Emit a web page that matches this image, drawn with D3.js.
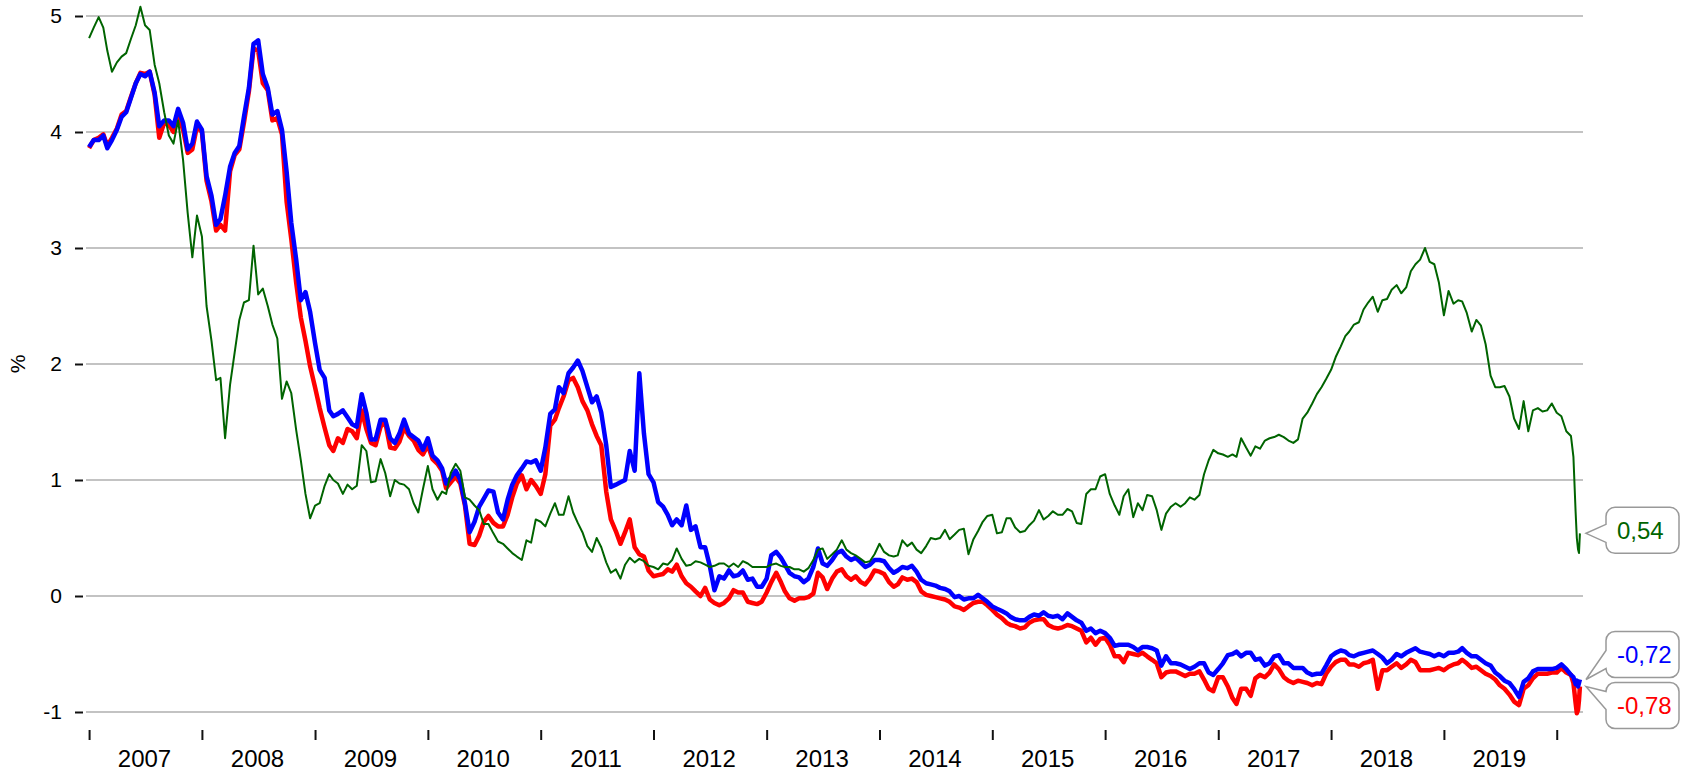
<!DOCTYPE html>
<html>
<head>
<meta charset="utf-8">
<script src="https://cdn.jsdelivr.net/npm/d3@7"></script>
<style>
  html, body { margin: 0; padding: 0; background: #fff; }
  svg { display: block; font-family: "Liberation Sans", Arial, Helvetica, sans-serif; }
</style>
</head>
<body>
<div id="chart"></div>
<script>
// Samples are read off on the 1st and 16th of every month (Jan 2007 - Feb 2020),
// the last weeks (the March 2020 drop) at a finer step.
const gridStart = new Date(2007, 0, 1);
const gridEnd = new Date(2020, 2, 1);
const tailDates = ["2020-02-24", "2020-03-02", "2020-03-06", "2020-03-10", "2020-03-13", "2020-03-16"];

const yTicks = [-1, 0, 1, 2, 3, 4, 5];
const yearTicks = [2007, 2008, 2009, 2010, 2011, 2012, 2013, 2014, 2015, 2016, 2017, 2018, 2019, 2020];
const yearLabels = ["2007", "2008", "2009", "2010", "2011", "2012", "2013", "2014", "2015", "2016", "2017", "2018", "2019"];
const yTitle = "%";

const greenValues = [
  // 2007
  4.81, 4.90, 4.99, 4.90, 4.70, 4.52, 4.60, 4.65, 4.68, 4.80, 4.92, 5.08, 4.92, 4.88, 4.58, 4.42, 4.17, 3.97, 3.90, 4.10, 3.76, 3.30, 2.92, 3.28,
  // 2008
  3.10, 2.50, 2.20, 1.86, 1.88, 1.36, 1.82, 2.10, 2.38, 2.53, 2.55, 3.02, 2.60, 2.65, 2.50, 2.34, 2.22, 1.70, 1.85, 1.75, 1.43, 1.17, 0.88, 0.67,
  // 2009
  0.78, 0.80, 0.95, 1.05, 1.00, 0.97, 0.88, 0.96, 0.92, 0.95, 1.30, 1.25, 0.98, 0.99, 1.18, 1.06, 0.86, 1.00, 0.97, 0.96, 0.92, 0.80, 0.72, 0.92,
  // 2010
  1.12, 0.92, 0.83, 0.90, 0.88, 1.06, 1.14, 1.08, 0.85, 0.83, 0.78, 0.74, 0.62, 0.62, 0.54, 0.47, 0.45, 0.41, 0.37, 0.34, 0.31, 0.48, 0.46, 0.66,
  // 2011
  0.64, 0.60, 0.71, 0.80, 0.70, 0.70, 0.86, 0.72, 0.63, 0.55, 0.43, 0.38, 0.50, 0.42, 0.29, 0.20, 0.23, 0.15, 0.27, 0.33, 0.29, 0.32, 0.30, 0.26,
  // 2012
  0.25, 0.23, 0.28, 0.27, 0.31, 0.41, 0.32, 0.26, 0.27, 0.30, 0.29, 0.27, 0.25, 0.26, 0.28, 0.28, 0.25, 0.28, 0.25, 0.30, 0.28, 0.25, 0.25, 0.25,
  // 2013
  0.25, 0.27, 0.28, 0.26, 0.25, 0.25, 0.23, 0.23, 0.21, 0.24, 0.31, 0.40, 0.41, 0.32, 0.36, 0.40, 0.48, 0.40, 0.37, 0.35, 0.32, 0.29, 0.30, 0.36,
  // 2014
  0.45, 0.38, 0.35, 0.34, 0.35, 0.48, 0.43, 0.46, 0.40, 0.37, 0.43, 0.50, 0.49, 0.50, 0.57, 0.49, 0.53, 0.57, 0.58, 0.36, 0.49, 0.56, 0.64, 0.69,
  // 2015
  0.70, 0.54, 0.55, 0.67, 0.67, 0.59, 0.55, 0.56, 0.61, 0.65, 0.74, 0.66, 0.69, 0.73, 0.70, 0.70, 0.75, 0.73, 0.63, 0.62, 0.88, 0.92, 0.92, 1.03,
  // 2016
  1.05, 0.88, 0.78, 0.70, 0.86, 0.92, 0.68, 0.80, 0.74, 0.87, 0.86, 0.74, 0.57, 0.71, 0.77, 0.80, 0.77, 0.80, 0.85, 0.83, 0.87, 1.05, 1.17, 1.26,
  // 2017
  1.23, 1.22, 1.20, 1.22, 1.20, 1.36, 1.28, 1.21, 1.29, 1.27, 1.34, 1.36, 1.37, 1.39, 1.37, 1.34, 1.32, 1.35, 1.53, 1.58, 1.66, 1.74, 1.80, 1.87,
  // 2018
  1.95, 2.06, 2.15, 2.24, 2.28, 2.34, 2.36, 2.47, 2.53, 2.58, 2.45, 2.55, 2.56, 2.64, 2.68, 2.61, 2.66, 2.80, 2.86, 2.90, 3.00, 2.88, 2.86, 2.70,
  // 2019
  2.42, 2.63, 2.52, 2.55, 2.54, 2.44, 2.28, 2.38, 2.33, 2.17, 1.90, 1.80, 1.80, 1.81, 1.72, 1.53, 1.44, 1.68, 1.42, 1.60, 1.62, 1.59, 1.60, 1.66,
  // 2020
  1.58, 1.55, 1.42, 1.38,
  1.20, 0.73, 0.50, 0.40, 0.37, 0.54
];

const blueValues = [
  // 2007
  3.87, 3.93, 3.93, 3.97, 3.86, 3.93, 4.02, 4.13, 4.17, 4.29, 4.42, 4.50, 4.48, 4.52, 4.34, 4.05, 4.10, 4.10, 4.05, 4.20, 4.08, 3.85, 3.90, 4.09,
  // 2008
  4.02, 3.62, 3.45, 3.20, 3.25, 3.45, 3.70, 3.82, 3.88, 4.13, 4.38, 4.76, 4.79, 4.50, 4.38, 4.15, 4.18, 4.02, 3.66, 3.22, 2.90, 2.55, 2.62, 2.45,
  // 2009
  2.18, 1.95, 1.88, 1.60, 1.55, 1.57, 1.60, 1.54, 1.48, 1.46, 1.74, 1.58, 1.35, 1.35, 1.52, 1.52, 1.36, 1.32, 1.40, 1.52, 1.40, 1.37, 1.34, 1.26,
  // 2010
  1.36, 1.21, 1.17, 1.10, 0.97, 1.02, 1.08, 1.00, 0.80, 0.55, 0.64, 0.77, 0.84, 0.91, 0.90, 0.72, 0.66, 0.83, 0.96, 1.04, 1.10, 1.16, 1.15, 1.17,
  // 2011
  1.08, 1.28, 1.57, 1.61, 1.80, 1.75, 1.92, 1.97, 2.03, 1.94, 1.80, 1.67, 1.72, 1.58, 1.30, 0.94, 0.96, 0.98, 1.00, 1.25, 1.08, 1.92, 1.40, 1.05,
  // 2012
  0.98, 0.81, 0.77, 0.70, 0.61, 0.66, 0.61, 0.78, 0.57, 0.60, 0.42, 0.42, 0.26, 0.05, 0.17, 0.15, 0.22, 0.17, 0.18, 0.22, 0.14, 0.15, 0.08, 0.08,
  // 2013
  0.15, 0.35, 0.38, 0.33, 0.27, 0.20, 0.17, 0.16, 0.12, 0.15, 0.25, 0.41, 0.28, 0.26, 0.31, 0.37, 0.39, 0.34, 0.31, 0.33, 0.29, 0.25, 0.27, 0.31,
  // 2014
  0.31, 0.30, 0.24, 0.20, 0.22, 0.25, 0.24, 0.26, 0.21, 0.14, 0.11, 0.10, 0.09, 0.07, 0.06, 0.04, -0.01, 0.00, -0.03, -0.02, -0.02, 0.01, -0.02, -0.05,
  // 2015
  -0.09, -0.11, -0.13, -0.15, -0.18, -0.20, -0.21, -0.21, -0.18, -0.16, -0.17, -0.14, -0.17, -0.18, -0.17, -0.20, -0.15, -0.18, -0.21, -0.23, -0.30, -0.28, -0.32, -0.30,
  // 2016
  -0.32, -0.36, -0.43, -0.42, -0.42, -0.42, -0.44, -0.47, -0.44, -0.44, -0.45, -0.47, -0.60, -0.52, -0.58, -0.58, -0.59, -0.61, -0.63, -0.61, -0.58, -0.58, -0.66, -0.68,
  // 2017
  -0.63, -0.58, -0.51, -0.50, -0.48, -0.52, -0.49, -0.49, -0.55, -0.54, -0.60, -0.58, -0.52, -0.51, -0.58, -0.58, -0.62, -0.62, -0.62, -0.66, -0.68, -0.67, -0.67, -0.60,
  // 2018
  -0.52, -0.49, -0.47, -0.48, -0.51, -0.52, -0.50, -0.49, -0.48, -0.47, -0.50, -0.53, -0.58, -0.55, -0.50, -0.52, -0.49, -0.47, -0.45, -0.48, -0.49, -0.50, -0.52, -0.50,
  // 2019
  -0.52, -0.49, -0.49, -0.48, -0.45, -0.49, -0.52, -0.52, -0.55, -0.58, -0.60, -0.66, -0.69, -0.73, -0.75, -0.80, -0.87, -0.74, -0.71, -0.65, -0.63, -0.63, -0.63, -0.63,
  // 2020
  -0.62, -0.59, -0.63, -0.68,
  -0.70, -0.76, -0.73, -0.78, -0.75, -0.72
];

const redValues = [
  // 2007
  3.86, 3.93, 3.95, 3.98, 3.88, 3.95, 4.03, 4.15, 4.18, 4.30, 4.42, 4.51, 4.50, 4.52, 4.32, 3.95, 4.08, 4.06, 4.00, 4.15, 4.02, 3.82, 3.85, 4.05,
  // 2008
  4.00, 3.58, 3.40, 3.15, 3.20, 3.15, 3.66, 3.80, 3.85, 4.08, 4.35, 4.72, 4.70, 4.42, 4.36, 4.10, 4.12, 3.98, 3.40, 3.08, 2.70, 2.40, 2.20, 1.98,
  // 2009
  1.80, 1.62, 1.45, 1.30, 1.25, 1.36, 1.32, 1.44, 1.42, 1.36, 1.60, 1.44, 1.32, 1.30, 1.46, 1.50, 1.28, 1.27, 1.33, 1.45, 1.38, 1.34, 1.26, 1.22,
  // 2010
  1.30, 1.18, 1.14, 1.08, 0.93, 0.98, 1.03, 0.97, 0.78, 0.45, 0.44, 0.52, 0.64, 0.69, 0.63, 0.60, 0.60, 0.70, 0.85, 0.97, 1.04, 0.92, 1.00, 0.95,
  // 2011
  0.88, 1.05, 1.47, 1.52, 1.62, 1.72, 1.86, 1.88, 1.80, 1.68, 1.60, 1.48, 1.38, 1.30, 0.90, 0.66, 0.56, 0.45, 0.55, 0.66, 0.42, 0.36, 0.34, 0.22,
  // 2012
  0.17, 0.18, 0.19, 0.23, 0.21, 0.27, 0.17, 0.11, 0.08, 0.04, 0.00, 0.07, -0.03, -0.06, -0.08, -0.06, -0.02, 0.05, 0.03, 0.03, -0.05, -0.06, -0.07, -0.05,
  // 2013
  0.03, 0.12, 0.20, 0.12, 0.04, -0.02, -0.04, -0.02, -0.02, -0.01, 0.02, 0.20, 0.16, 0.06, 0.15, 0.21, 0.23, 0.17, 0.14, 0.17, 0.12, 0.10, 0.15, 0.22,
  // 2014
  0.21, 0.19, 0.12, 0.08, 0.10, 0.16, 0.14, 0.15, 0.12, 0.04, 0.01, 0.00, -0.01, -0.02, -0.03, -0.05, -0.09, -0.10, -0.12, -0.09, -0.06, -0.05, -0.05, -0.08,
  // 2015
  -0.12, -0.16, -0.19, -0.23, -0.25, -0.26, -0.28, -0.27, -0.23, -0.21, -0.20, -0.20, -0.25, -0.27, -0.28, -0.27, -0.25, -0.26, -0.28, -0.30, -0.40, -0.36, -0.42, -0.37,
  // 2016
  -0.36, -0.42, -0.52, -0.52, -0.57, -0.49, -0.50, -0.51, -0.49, -0.52, -0.55, -0.58, -0.70, -0.66, -0.65, -0.65, -0.67, -0.69, -0.67, -0.67, -0.65, -0.72, -0.80, -0.82,
  // 2017
  -0.70, -0.70, -0.78, -0.88, -0.93, -0.80, -0.80, -0.86, -0.71, -0.68, -0.70, -0.66, -0.59, -0.63, -0.70, -0.73, -0.75, -0.73, -0.74, -0.75, -0.77, -0.75, -0.76, -0.67,
  // 2018
  -0.61, -0.57, -0.55, -0.55, -0.59, -0.59, -0.61, -0.58, -0.57, -0.55, -0.80, -0.64, -0.64, -0.61, -0.58, -0.62, -0.59, -0.55, -0.57, -0.64, -0.64, -0.64, -0.63, -0.62,
  // 2019
  -0.64, -0.61, -0.59, -0.58, -0.55, -0.58, -0.62, -0.61, -0.64, -0.67, -0.69, -0.72, -0.77, -0.80, -0.85, -0.91, -0.94, -0.80, -0.77, -0.71, -0.67, -0.67, -0.67, -0.66,
  // 2020
  -0.66, -0.62, -0.66, -0.68,
  -0.75, -0.92, -1.01, -0.98, -0.90, -0.78
];

const width = 1681;
const height = 773;

const parseDay = d3.timeParse("%Y-%m-%d");
let dates = [];
d3.timeMonth.range(gridStart, gridEnd).forEach((m) => {
  dates.push(m, d3.timeDay.offset(m, 15));
});
dates = dates.concat(tailDates.map(parseDay));

// german number style: comma decimals, plain hyphen for the minus
const de = d3.formatLocale({decimal: ",", thousands: ".", grouping: [3], currency: ["", " €"], minus: "-"});
const fmtValue = de.format(".2f");
const fmtTick = de.format("d");

const x = d3.scaleTime()
  .domain([new Date(2006, 11, 22), new Date(2020, 2, 26)])
  .range([86, 1583]);

const y = d3.scaleLinear()
  .domain([-1, 5])
  .range([712, 16]);

const svg = d3.select("#chart").append("svg")
  .attr("width", width)
  .attr("height", height);

svg.append("rect")
  .attr("width", width)
  .attr("height", height)
  .attr("fill", "#fff");

// grid
svg.append("g")
  .selectAll("line")
  .data(yTicks)
  .enter().append("line")
    .attr("x1", x.range()[0])
    .attr("x2", x.range()[1])
    .attr("y1", d => y(d))
    .attr("y2", d => y(d))
    .attr("stroke", "#c3c3c3")
    .attr("stroke-width", 2);

// y axis: short ticks, no domain line
let yAxis = svg.append("g")
  .attr("transform", "translate(83,0)")
  .call(d3.axisLeft(y).tickValues(yTicks).tickFormat(fmtTick).tickSize(8).tickPadding(13));
yAxis.select(".domain").remove();
yAxis.selectAll(".tick line").attr("stroke", "#111").attr("stroke-width", 2);
yAxis.selectAll(".tick text")
  .attr("fill", "#000")
  .style("font-size", "21px")
  .style("font-family", "\"Liberation Sans\", Arial, sans-serif");

svg.append("text")
  .attr("transform", "translate(19," + y(2) + ") rotate(-90)")
  .attr("text-anchor", "middle")
  .attr("dominant-baseline", "middle")
  .attr("fill", "#000")
  .style("font-size", "21px")
  .text(yTitle);

// x axis: year boundaries as ticks, labels in the middle of each year
let xAxis = svg.append("g")
  .attr("transform", "translate(0,730)")
  .call(d3.axisBottom(x)
    .tickValues(yearTicks.map(yr => new Date(yr, 0, 1)))
    .tickFormat("")
    .tickSize(10));
xAxis.select(".domain").remove();
xAxis.selectAll(".tick line").attr("stroke", "#111").attr("stroke-width", 2);

svg.append("g")
  .selectAll("text")
  .data(yearLabels)
  .enter().append("text")
    .attr("x", d => (x(new Date(+d, 0, 1)) + x(new Date(+d + 1, 0, 1))) / 2 - 1)
    .attr("y", 767)
    .attr("text-anchor", "middle")
    .attr("fill", "#000")
    .style("font-size", "24px")
    .text(d => d);

// lines (red under blue, thin green on top)
const series = [
  {name: "red", values: redValues, color: "#ff0000", width: 4.5},
  {name: "blue", values: blueValues, color: "#0000ff", width: 4.5},
  {name: "green", values: greenValues, color: "#006400", width: 2}
];

const line = d3.line()
  .x((d, i) => x(dates[i]))
  .y(d => y(d));

svg.append("g")
  .selectAll("path")
  .data(series)
  .enter().append("path")
    .attr("d", d => line(d.values))
    .attr("fill", "none")
    .attr("stroke", d => d.color)
    .attr("stroke-width", d => d.width)
    .attr("stroke-linejoin", "round");

// end-value callouts
let boxX0 = 1606, boxX1 = 1679, tipX = 1586, boxH = 46, gap = 5, r = 9;

let callouts = series.map(s => {
  let last = s.values[s.values.length - 1];
  return {color: s.color, text: fmtValue(last), tip: y(last)};
}).sort((a, b) => a.tip - b.tip);

// merge overlapping boxes into groups centred on their tips
let groups = callouts.map(c => ({items: [c]}));
let groupH = g => g.items.length * boxH + (g.items.length - 1) * gap;
let groupMid = g => d3.mean(g.items, c => c.tip);
let merged = true;
while (merged) {
  merged = false;
  for (let i = 0; i < groups.length - 1; i++) {
    let a = groups[i], b = groups[i + 1];
    let aBottom = groupMid(a) + groupH(a) / 2;
    let bTop = groupMid(b) - groupH(b) / 2;
    if (aBottom + gap > bTop) {
      a.items = a.items.concat(b.items);
      groups.splice(i + 1, 1);
      merged = true;
      break;
    }
  }
}
groups.forEach(g => {
  let top = groupMid(g) - groupH(g) / 2 - 3;
  g.items.forEach((c, k) => { c.top = top + k * (boxH + gap); });
});

function calloutPath(c) {
  let top = c.top, bottom = c.top + boxH;
  let mid = Math.max(top + r + 9, Math.min(bottom - r - 9, c.tip));
  return [
    "M", boxX0 + r, top,
    "H", boxX1 - r,
    "A", r, r, 0, 0, 1, boxX1, top + r,
    "V", bottom - r,
    "A", r, r, 0, 0, 1, boxX1 - r, bottom,
    "H", boxX0 + r,
    "A", r, r, 0, 0, 1, boxX0, bottom - r,
    "V", mid + 9,
    "L", tipX, c.tip,
    "L", boxX0, mid - 9,
    "V", top + r,
    "A", r, r, 0, 0, 1, boxX0 + r, top,
    "Z"
  ].join(" ");
}

let callout = svg.append("g")
  .selectAll("g")
  .data(callouts)
  .enter().append("g");

callout.append("path")
  .attr("d", calloutPath)
  .attr("fill", "#fff")
  .attr("stroke", "#999")
  .attr("stroke-width", 1.5);

callout.append("text")
  .attr("x", boxX0 + 11)
  .attr("y", c => c.top + boxH / 2)
  .attr("dominant-baseline", "central")
  .attr("fill", c => c.color)
  .style("font-size", "24px")
  .text(c => c.text);
</script>
</body>
</html>
